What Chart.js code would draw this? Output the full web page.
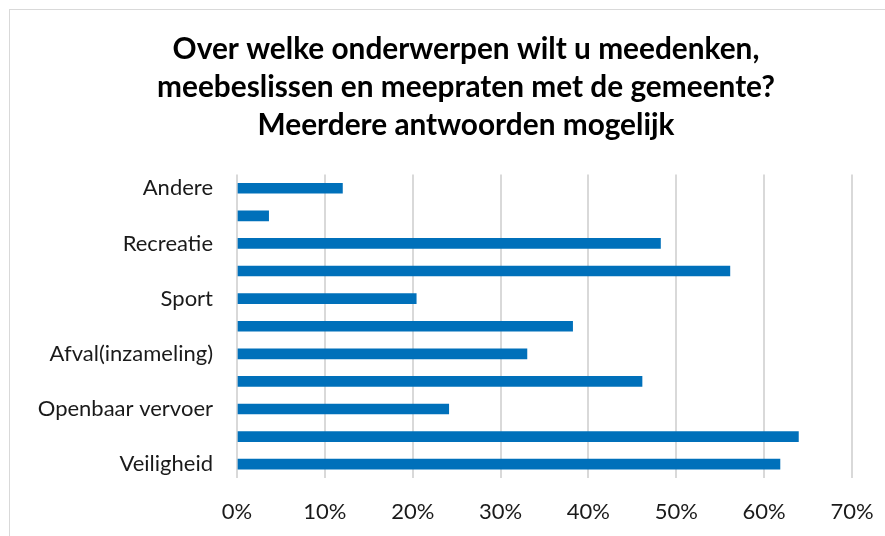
<!DOCTYPE html>
<html>
<head>
<meta charset="utf-8">
<script src="https://cdn.jsdelivr.net/npm/chart.js@4/dist/chart.umd.min.js"></script>
<style>
  html, body { margin: 0; padding: 0; background: #fff; overflow: hidden; }
  #frame {
    position: absolute; left: 9px; top: 9px;
    width: 912px; height: 560px;
    border: 1px solid #d9d9d9;
  }
</style>
</head>
<body>
<div id="frame"><canvas id="chart" width="912" height="540"></canvas></div>
<script>
// === Data ===
const titleLines = [
  "Over welke onderwerpen wilt u meedenken,",
  "meebeslissen en meepraten met de gemeente?",
  "Meerdere antwoorden mogelijk"
];
// only every other category label is shown in the original
const categories = [
  "Andere", "", "Recreatie", "", "Sport", "",
  "Afval(inzameling)", "", "Openbaar vervoer", "", "Veiligheid"
];
const shares = [0.12, 0.036, 0.482, 0.561, 0.204, 0.382, 0.33, 0.461, 0.241, 0.639, 0.618];
const xTicks = [0, 0.1, 0.2, 0.3, 0.4, 0.5, 0.6, 0.7];

const FONT = "Lato";
const barColor = "#0070BA";

const ctx = document.getElementById("chart").getContext("2d");
new Chart(ctx, {
  type: "bar",
  data: {
    labels: categories,
    datasets: [{
      data: shares,
      backgroundColor: barColor,
      barThickness: 10
    }]
  },
  options: {
    indexAxis: "y",
    responsive: false,
    animation: false,
    // equal side padding keeps the title centred on the frame
    layout: { padding: { left: 70, right: 70, top: 0, bottom: 12 } },
    plugins: {
      legend: { display: false },
      tooltip: { enabled: false },
      title: {
        display: true,
        text: titleLines,
        color: "#000",
        font: { family: FONT, size: 29.8, weight: "bold", lineHeight: 1.28 },
        padding: { top: 20, bottom: 30 }
      }
    },
    scales: {
      x: {
        min: 0,
        max: 0.7,
        afterBuildTicks: axis => { axis.ticks = xTicks.map(v => ({ value: v })); },
        ticks: {
          callback: v => Math.round(v * 100) + "%",
          color: "#1a1a1a",
          font: { family: FONT, size: 22 },
          padding: 21
        },
        grid: { color: "#d9d9d9", lineWidth: 2, drawTicks: false },
        border: { display: false },
        afterFit: axis => { axis.height = 60; }
      },
      y: {
        ticks: {
          autoSkip: false,
          color: "#1a1a1a",
          font: { family: FONT, size: 22 },
          padding: 16
        },
        grid: { display: false },
        border: { display: false },
        afterFit: axis => {
          axis.width = 157;
          // long labels reach into the left padding, so don't clip them
          axis._computeLabelArea = () => undefined;
        }
      }
    }
  }
});
</script>
</body>
</html>
